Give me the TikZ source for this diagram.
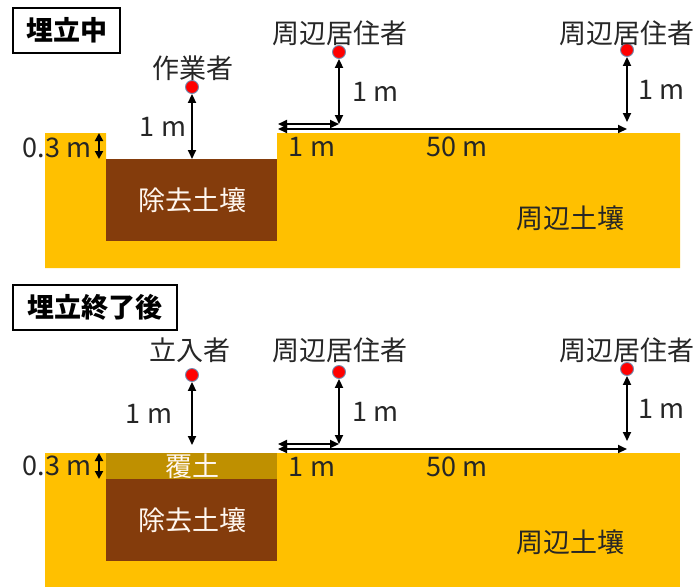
\documentclass[tikz,border=0pt]{standalone}
\usepackage{fontspec}
\setmainfont{Noto Sans CJK JP}
\usetikzlibrary{arrows.meta}
\definecolor{soil}{HTML}{FFC000}
\definecolor{waste}{HTML}{843C0C}
\definecolor{cover}{HTML}{BF9000}
\definecolor{rim}{HTML}{6F8FB3}
\tikzset{
  txt/.style={font=\fontsize{27}{32}\selectfont,inner sep=0pt,text=black!85},
  ttl/.style={draw,line width=1.2pt,font=\fontsize{27}{32}\selectfont\bfseries,minimum height=45pt,inner sep=0pt},
  dot/.style={circle,fill=red,draw=rim,line width=0.9pt,inner sep=0pt,minimum size=13pt},
  dim/.style={<->,line width=2pt},
  pale/.style={txt,text=white!94!orange}
}
\begin{document}
\begin{tikzpicture}[x=1pt,y=-1pt,>={Triangle[length=9pt,width=8pt]}]
\useasboundingbox (0,0) rectangle (698,587);
% 埋立中
\node[ttl,minimum width=107pt] (ttop) at (66.5,30.5) {埋立中};
\fill[soil] (45,133) -- (106,133) -- (106,159) -- (277,159) -- (277,133) -- (680,133) -- (680,268) -- (45,268) -- cycle;
\fill[waste] (106,159) rectangle (277,241);
\node[pale] (rmtop) at (192,200) {除去土壤};
\node[txt] (srtop) at (570,218) {周辺土壤};
\node[txt] (thk) at (57,148) {0.3 m};
\coordinate (thka) at (99,133);
\coordinate (thkb) at (99,159);
\draw[dim,>={Triangle[length=8pt,width=8pt]}] (thka) -- (thkb);
\node[dot] (wk) at (192,87) {};
\node[txt] (wkl) at (193,68) {作業者};
\coordinate (wkg) at (192,159);
\draw[dim] (wk) -- node[txt,left=5pt]{1 m} (wkg);
\node[dot] (ra) at (339,52) {};
\node[txt] (ral) at (340,33) {周辺居住者};
\coordinate (rag) at (339,124);
\draw[dim] (ra) -- node[txt,right=12pt]{1 m} (rag);
\node[dot] (rb) at (627,50) {};
\node[txt] (rbl) at (627,33) {周辺居住者};
\coordinate (rbg) at (627,122);
\draw[dim] (rb) -- node[txt,right=10pt]{1 m} (rbg);
\coordinate (edga) at (278,124);
\coordinate (edgb) at (278,129);
\coordinate (far) at (627,129);
\draw[dim] (edga) -- (rag);
\draw[dim] (edgb) -- (far);
\node[txt] (da) at (312,147) {1 m};
\node[txt] (db) at (457,147) {50 m};
% 埋立終了後
\node[ttl,minimum width=164pt] (tbot) at (95,307.5) {埋立終了後};
\fill[soil] (45,453) rectangle (680,587);
\fill[cover] (106,453) rectangle (277,479);
\fill[waste] (106,479) rectangle (277,561);
\node[pale] (cv) at (192,466) {覆土};
\node[pale] (rmbot) at (192,520) {除去土壤};
\node[txt] (srbot) at (570,542) {周辺土壤};
\node[txt] (thk2) at (57,466) {0.3 m};
\coordinate (thkc) at (99,453);
\coordinate (thkd) at (99,479);
\draw[dim,>={Triangle[length=8pt,width=8pt]}] (thkc) -- (thkd);
\node[dot] (vis) at (192,375) {};
\node[txt] (visl) at (190,350) {立入者};
\coordinate (visg) at (192,445);
\draw[dim] (vis) -- node[txt,left=19pt]{1 m} (visg);
\node[dot] (rc) at (339,372) {};
\node[txt] (rcl) at (340,350) {周辺居住者};
\coordinate (rcg) at (339,444);
\draw[dim] (rc) -- node[txt,right=12pt]{1 m} (rcg);
\node[dot] (rd) at (627,369) {};
\node[txt] (rdl) at (627,350) {周辺居住者};
\coordinate (rdg) at (627,441);
\draw[dim] (rd) -- node[txt,right=10pt]{1 m} (rdg);
\coordinate (edgc) at (278,444);
\coordinate (edgd) at (278,449);
\coordinate (far2) at (627,449);
\draw[dim] (edgc) -- (rcg);
\draw[dim] (edgd) -- (far2);
\node[txt] (dc) at (312,467) {1 m};
\node[txt] (dd) at (457,467) {50 m};
\end{tikzpicture}
\end{document}
